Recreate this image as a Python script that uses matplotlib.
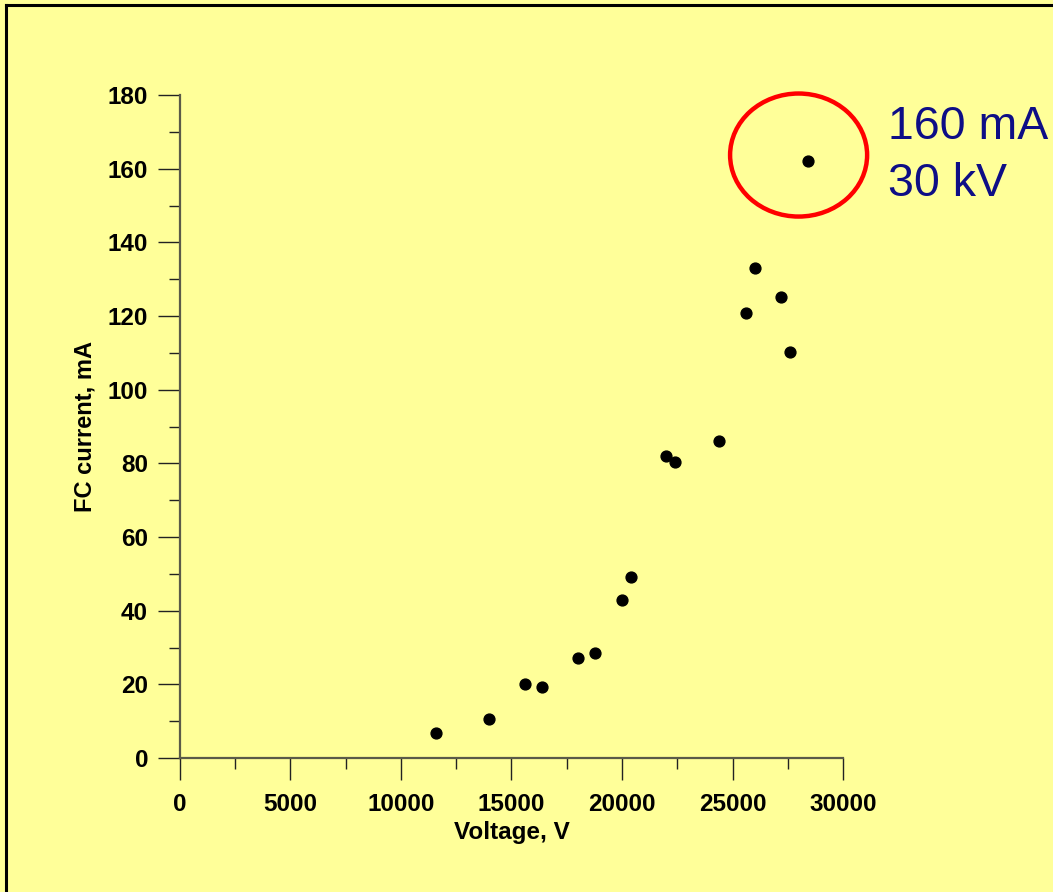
import matplotlib
matplotlib.use("Agg")
import matplotlib.pyplot as plt
from matplotlib.patches import Ellipse
from matplotlib.lines import Line2D
from matplotlib.ticker import MultipleLocator

# Faraday cup current vs. extraction voltage
voltage = [11600, 14000, 15600, 16400, 18000, 18800, 20000, 20400,
           22000, 22400, 24400, 25600, 26000, 27200, 27600, 28400]
current = [6.8, 10.6, 20.1, 19.3, 27.2, 28.5, 42.9, 49.1,
           82.0, 80.4, 86.1, 120.8, 133.0, 125.2, 110.2, 162.1]

x_ticks = [0, 5000, 10000, 15000, 20000, 25000, 30000]
y_ticks = [0, 20, 40, 60, 80, 100, 120, 140, 160, 180]
note_lines = ["160 mA", "30 kV"]

bg = "#FFFF99"
axis_col = "#5a5a48"

plt.rcParams['font.family'] = ['Liberation Sans', 'DejaVu Sans']

fig = plt.figure(figsize=(10.53, 8.92), dpi=100, facecolor=bg)
ax = fig.add_axes([0.1709, 0.1502, 0.6297, 0.7433])
ax.set_facecolor(bg)

ax.plot(voltage, current, 'o', color='black', ms=7.8, clip_on=False)

ax.set_xlim(0, 30000)
ax.set_ylim(0, 180)
ax.set_xticks(x_ticks)
ax.set_yticks(y_ticks)
ax.xaxis.set_minor_locator(MultipleLocator(2500))
ax.yaxis.set_minor_locator(MultipleLocator(10))

for s in ['top', 'right']:
    ax.spines[s].set_visible(False)
for s in ['left', 'bottom']:
    ax.spines[s].set_color(axis_col)
    ax.spines[s].set_linewidth(1.6)

ax.tick_params(which='major', direction='out', length=16, width=1.0,
               color='#222222', labelsize=17.5)
ax.tick_params(which='minor', direction='out', length=8, width=1.0,
               color='#222222')
ax.tick_params(axis='x', which='major', pad=9)
ax.tick_params(axis='y', which='major', pad=7)
for lab in ax.get_xticklabels() + ax.get_yticklabels():
    lab.set_fontweight('bold')

ax.set_xlabel("Voltage, V", fontsize=17.5, fontweight='bold', labelpad=4)
ax.set_ylabel("FC current, mA", fontsize=17, fontweight='bold', labelpad=8)

# highlight the top point
ring = Ellipse((27990, 163.7), 6200, 33.4, fill=False, edgecolor='#FF0000',
               linewidth=3.2, clip_on=False)
ax.add_patch(ring)

fig.text(888 / 1053, 1 - 139 / 892, note_lines[0], fontsize=33.5,
         color='#0E0E86', va='baseline', ha='left')
fig.text(888 / 1053, 1 - 196 / 892, note_lines[1], fontsize=33.5,
         color='#0E0E86', va='baseline', ha='left')

# frame lines along the top and left edges
fig.add_artist(Line2D([6 / 1053, 1], [1 - 5 / 892, 1 - 5 / 892],
                      transform=fig.transFigure, color='black', lw=2.2))
fig.add_artist(Line2D([6 / 1053, 6 / 1053], [0, 1 - 5 / 892],
                      transform=fig.transFigure, color='black', lw=2.2))

fig.savefig("out.png", dpi=100, facecolor=bg)
